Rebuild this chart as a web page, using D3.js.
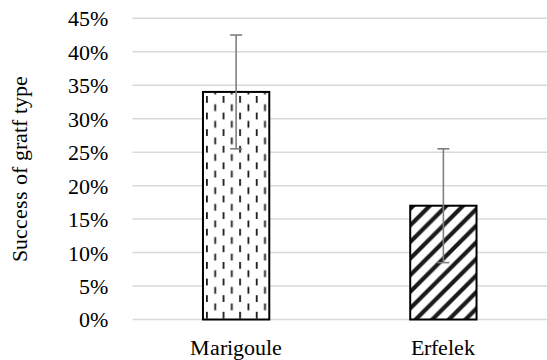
<!DOCTYPE html>
<html>
<head>
<meta charset="utf-8">
<script src="https://cdn.jsdelivr.net/npm/d3@7"></script>
<style>
  @font-face {
    font-family: "ChartSerif";
    src: local("Liberation Serif"), local("LiberationSerif"), local("LiberationSerif-Regular"),
         local("Times New Roman"), local("TimesNewRomanPSMT"),
         local("DejaVu Serif"), local("DejaVuSerif");
  }
  html, body { margin: 0; padding: 0; background: #fff; }
  svg { display: block; }
  svg text { font-family: "ChartSerif", "Liberation Serif", "DejaVu Serif", serif; fill: #000; }
</style>
</head>
<body>
<svg id="chart" width="547" height="360"></svg>
<script>
// Graft success rates per rootstock, with error margins
const categories = ["Marigoule", "Erfelek"];
const success = [0.34, 0.17];
const errorMargin = [0.085, 0.085];
const patterns = ["dashVert", "wideUpDiag"];
const yTicks = [0, 0.05, 0.10, 0.15, 0.20, 0.25, 0.30, 0.35, 0.40, 0.45];
const yTitle = "Success of gratf type";

const W = 547, H = 360;
const margin = { top: 18.3, right: 0, bottom: 40.5, left: 132.5 };
const fontSize = 22;

const svg = d3.select("#chart");
const defs = svg.append("defs");

// Vertical dashed fill: staggered columns of short dashes
const pv = defs.append("pattern")
  .attr("id", "dashVert")
  .attr("patternUnits", "userSpaceOnUse")
  .attr("width", 16.6).attr("height", 16.6)
  .attr("x", 206).attr("y", 96);
pv.append("rect").attr("width", 16.6).attr("height", 16.6).attr("fill", "#fff");
pv.append("rect").attr("x", 0).attr("y", 0).attr("width", 1.8).attr("height", 6.8).attr("fill", "#1a1a1a");
pv.append("rect").attr("x", 8.3).attr("y", 8.3).attr("width", 1.8).attr("height", 6.8).attr("fill", "#1a1a1a");

// Wide upward diagonal stripes
const pd = defs.append("pattern")
  .attr("id", "wideUpDiag")
  .attr("patternUnits", "userSpaceOnUse")
  .attr("width", 16.6).attr("height", 16.6)
  .attr("x", 413).attr("y", 206);
pd.append("rect").attr("width", 16.6).attr("height", 16.6).attr("fill", "#fff");
pd.append("path")
  .attr("d", "M-4.15,4.15 L4.15,-4.15 M0,16.6 L16.6,0 M12.45,20.75 L20.75,12.45")
  .attr("stroke", "#1a1a1a").attr("stroke-width", 4.2).attr("stroke-linecap", "square");

const x = d3.scaleBand()
  .domain(categories)
  .range([margin.left, W - margin.right])
  .paddingInner(0.68)
  .paddingOuter(0.34);

const y = d3.scaleLinear()
  .domain([0, 0.45])
  .range([H - margin.bottom, margin.top]);

// Horizontal gridlines
svg.append("g")
  .selectAll("line")
  .data(yTicks)
  .join("line")
  .attr("x1", margin.left).attr("x2", W - margin.right)
  .attr("y1", d => y(d)).attr("y2", d => y(d))
  .attr("stroke", "#d9d9d9").attr("stroke-width", 1.5);

// Y axis labels
const yAxis = d3.axisLeft(y)
  .tickValues(yTicks)
  .tickFormat(d3.format(".0%"))
  .tickSize(0)
  .tickPadding(0);
const gy = svg.append("g")
  .attr("transform", `translate(${107.5},0)`)
  .call(yAxis)
  .attr("font-family", null)
  .attr("font-size", fontSize);
gy.select(".domain").remove();
gy.selectAll("text")
  .attr("fill", "#000")
  .attr("dy", "0.34em");

// Y axis title
svg.append("text")
  .attr("transform", `translate(${27},${(y(0) + y(0.45)) / 2}) rotate(-90)`)
  .attr("text-anchor", "middle")
  .attr("font-size", fontSize)
  .text(yTitle);

// X axis labels
const xAxis = d3.axisBottom(x).tickSize(0).tickPadding(0);
const gx = svg.append("g")
  .attr("transform", `translate(0,${355})`)
  .call(xAxis)
  .attr("font-family", null)
  .attr("font-size", fontSize);
gx.select(".domain").remove();
gx.selectAll("text")
  .attr("fill", "#000")
  .attr("dy", 0);

// Bars
svg.append("g")
  .selectAll("rect")
  .data(categories)
  .join("rect")
  .attr("x", d => x(d))
  .attr("width", x.bandwidth())
  .attr("y", (d, i) => y(success[i]))
  .attr("height", (d, i) => y(0) - y(success[i]))
  .attr("fill", (d, i) => `url(#${patterns[i]})`)
  .attr("stroke", "#000")
  .attr("stroke-width", 2);

// Error bars
const eb = svg.append("g").attr("stroke", "#7f7f7f").attr("stroke-width", 1.6);
categories.forEach((c, i) => {
  const cx = x(c) + x.bandwidth() / 2;
  const hi = y(success[i] + errorMargin[i]);
  const lo = y(success[i] - errorMargin[i]);
  eb.append("line").attr("x1", cx).attr("x2", cx).attr("y1", hi).attr("y2", lo);
  eb.append("line").attr("x1", cx - 6).attr("x2", cx + 6).attr("y1", hi).attr("y2", hi);
  eb.append("line").attr("x1", cx - 6).attr("x2", cx + 6).attr("y1", lo).attr("y2", lo);
});
</script>
</body>
</html>
